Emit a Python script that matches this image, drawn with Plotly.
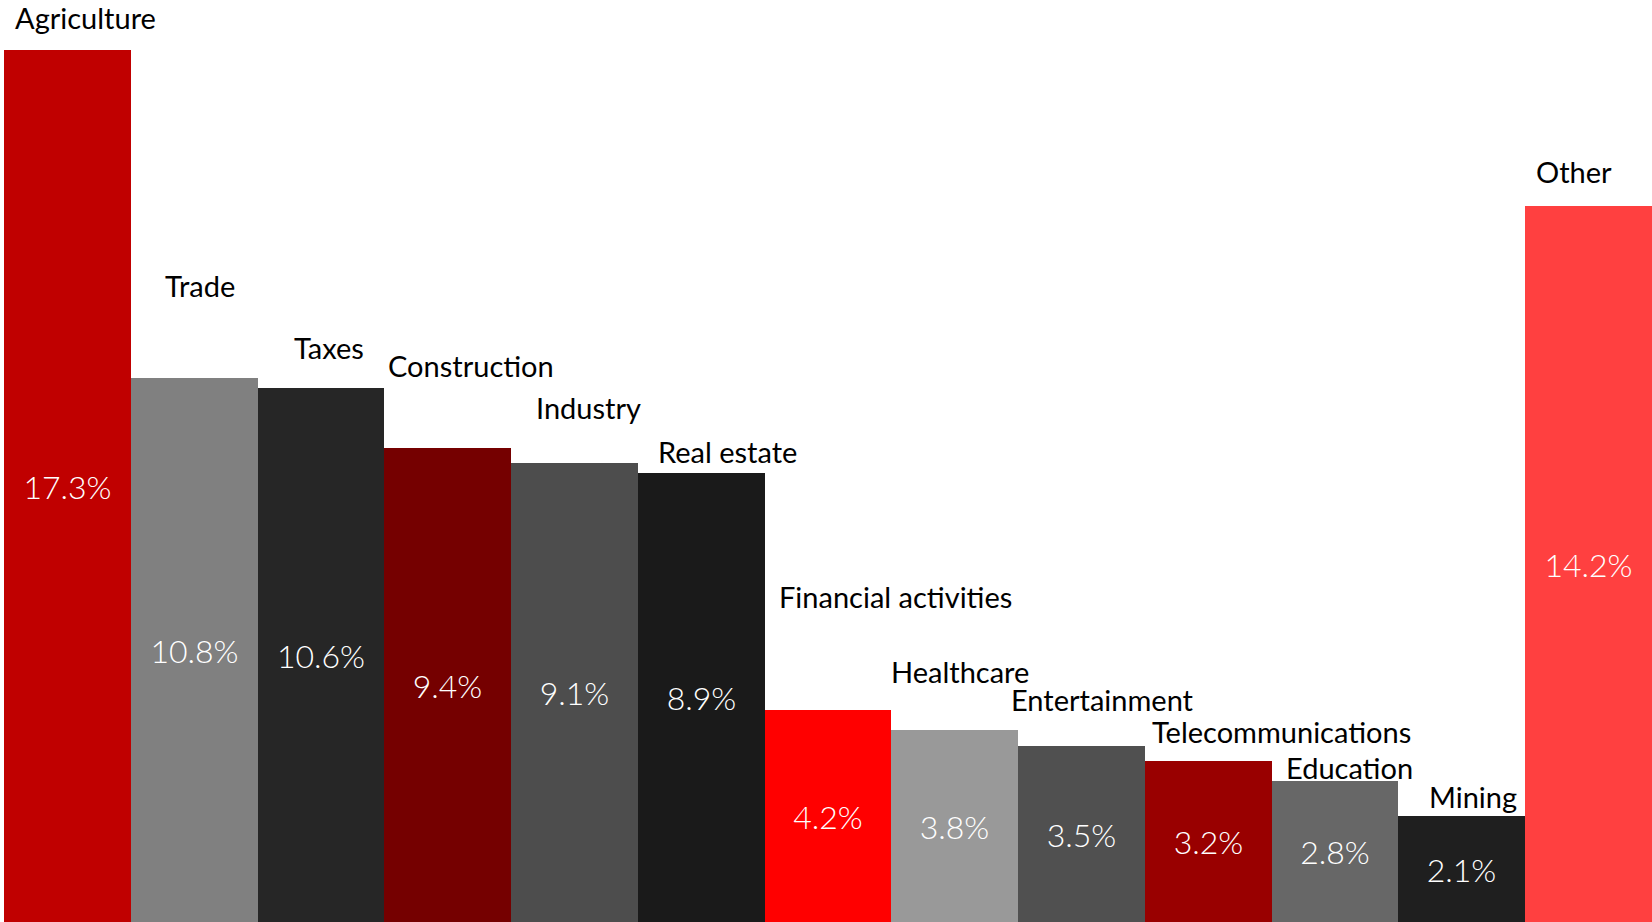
import plotly.graph_objects as go

# Share of output by sector (%)
sectors = ["Agriculture", "Trade", "Taxes", "Construction", "Industry", "Real estate",
           "Financial activities", "Healthcare", "Entertainment", "Telecommunications",
           "Education", "Mining", "Other"]
shares = [17.3, 10.8, 10.6, 9.4, 9.1, 8.9, 4.2, 3.8, 3.5, 3.2, 2.8, 2.1, 14.2]

bar_colors = ["#C00000", "#808080", "#262626", "#750000", "#4D4D4D", "#1A1A1A",
              "#FF0000", "#999999", "#505050", "#990000", "#676767", "#1F1F1F", "#FF4040"]

# Pixel offsets of each sector name from the top-left corner of its bar
name_dx = [9, 32, 34, 2, 23, 18, 12, -2, -9, 5, 12, 29, 9]
name_dy = [32, 92, 40, 83, 56, 22, 114, 59, 46, 29, 13, 20, 35]

fig = go.Figure(go.Bar(
    x=list(range(len(sectors))),
    y=shares,
    marker=dict(color=bar_colors, line=dict(width=0)),
    text=[f"{v:.1f}%" for v in shares],
    textposition="inside",
    insidetextanchor="middle",
    textangle=0,
    textfont=dict(family="Lato", size=32, color="white", weight=300),
    cliponaxis=False,
    hoverinfo="skip",
))

for i, (name, v) in enumerate(zip(sectors, shares)):
    fig.add_annotation(
        x=i - 0.5, y=v, text=name, showarrow=False,
        xanchor="left", yanchor="middle",
        xshift=name_dx[i], yshift=name_dy[i],
        font=dict(family="Lato", size=29, color="#000000"),
    )

fig.update_layout(
    width=1652, height=922,
    margin=dict(l=4, r=0, t=0, b=0),
    paper_bgcolor="white", plot_bgcolor="white",
    bargap=0, showlegend=False,
    uniformtext=dict(mode=False),
    xaxis=dict(range=[-0.5, len(sectors) - 0.5], visible=False, fixedrange=True),
    yaxis=dict(range=[0, 18.29], visible=False, fixedrange=True),
)

fig.write_html("out.html", config={"displayModeBar": False})
